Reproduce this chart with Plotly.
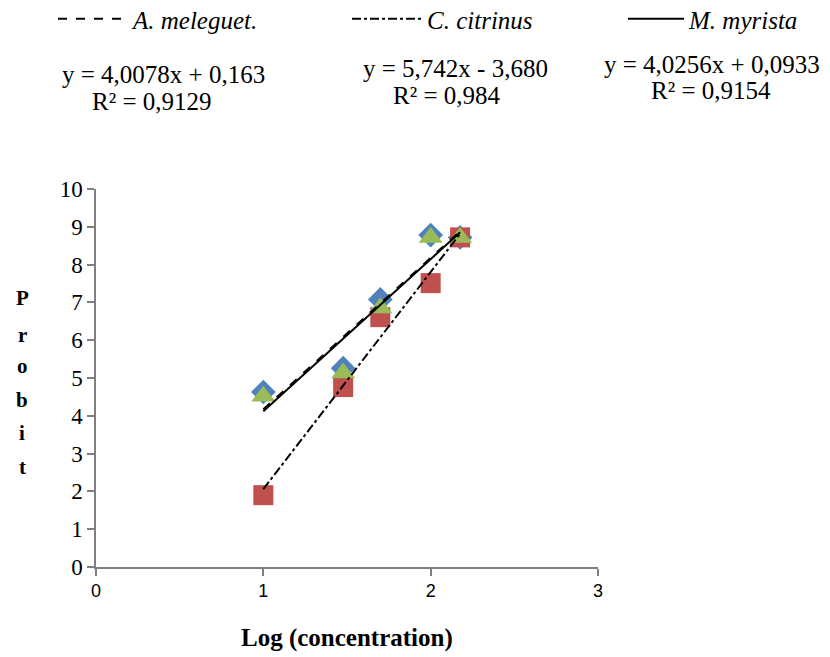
import plotly.graph_objects as go

# ---- data ----
log_conc = [1.0, 1.477, 1.699, 2.0, 2.176]
a_meleguet = [4.63, 5.26, 7.08, 8.78, 8.72]
c_citrinus = [1.90, 4.76, 6.61, 7.51, 8.72]
m_myrista = [4.52, 5.13, 6.85, 8.72, 8.72]

series_names = ["A. meleguet.", "C. citrinus", "M. myrista"]
slopes = [4.0078, 5.742, 4.0256]
intercepts = [0.163, -3.680, 0.0933]
equations = ["y = 4,0078x + 0,163", "y = 5,742x - 3,680", "y = 4,0256x + 0,0933"]
r2_labels = ["R² = 0,9129", "R² = 0,984", "R² = 0,9154"]

x_ticks = [0, 1, 2, 3]
y_ticks = list(range(0, 11))

SERIF = "Liberation Serif, Times New Roman, serif"
SANS = "Liberation Sans, Arial, sans-serif"
AXIS_GREY = "#808080"

fig = go.Figure()

# markers
fig.add_trace(go.Scatter(x=log_conc, y=a_meleguet, mode="markers", showlegend=False,
                         marker=dict(symbol="diamond", size=19, color="#4F81BD")))
fig.add_trace(go.Scatter(x=log_conc, y=c_citrinus, mode="markers", showlegend=False,
                         marker=dict(symbol="square", size=20, color="#C0504D")))
fig.add_trace(go.Scatter(x=log_conc, y=m_myrista, mode="markers", showlegend=False,
                         marker=dict(symbol="triangle-up", size=21, color="#9BBB59")))

# trend lines
dashes = ["dash", "dashdot", "solid"]
legends = ["legend", "legend2", "legend3"]
xmin, xmax = min(log_conc), max(log_conc)
for name, m, b, d, lg in zip(series_names, slopes, intercepts, dashes, legends):
    fig.add_trace(go.Scatter(
        x=[xmin, xmax], y=[m * xmin + b, m * xmax + b], mode="lines",
        name="<i>" + name + "</i>", legend=lg,
        line=dict(color="black", width=2, dash=d)))

OFF = 8  # page offset of the figure (body margin)
W, H = 830, 657
# plot area in page pixels: x 96..598, y 189..567
L, R, T, B = 96 - OFF, W - (598 - OFF), 189 - OFF, H - (567 - OFF)
pw, ph = W - L - R, H - T - B

def px_x(px):
    return (px - OFF - L) / pw

def px_y(py):
    return (H - B - (py - OFF)) / ph

legend_font = dict(family=SERIF, size=25, color="black")
def leg(xpx, iw):
    return dict(xref="container", yref="container", x=(xpx - OFF) / W,
                y=1 - (19 - OFF) / H,
                xanchor="left", yanchor="middle", itemwidth=iw,
                font=legend_font, bgcolor="rgba(0,0,0,0)")

fig.update_layout(
    width=W, height=H,
    margin=dict(l=L, r=R, t=T, b=B, autoexpand=False),
    paper_bgcolor="white", plot_bgcolor="white",
    legend=leg(53, 70),
    legend2=leg(347, 70),
    legend3=leg(623, 56),
    xaxis=dict(range=[0, 3], tickvals=x_ticks, showgrid=False, zeroline=False,
               showline=True, linecolor=AXIS_GREY, linewidth=1.5,
               ticks="outside", ticklen=7, tickcolor=AXIS_GREY, tickwidth=1.5,
               tickfont=dict(family=SANS, size=18, color="black")),
    yaxis=dict(range=[0, 10], tickvals=y_ticks, showgrid=False, zeroline=False,
               showline=True, linecolor=AXIS_GREY, linewidth=1.5,
               ticks="outside", ticklen=7, tickcolor=AXIS_GREY, tickwidth=1.5,
               ticksuffix="\u00a0",
               tickfont=dict(family=SERIF, size=23, color="black")),
)

# x-axis title
fig.add_annotation(x=0.5, y=px_y(638), xref="paper", yref="paper",
                   xanchor="center", yanchor="middle", showarrow=False,
                   text="<b>Log (concentration)</b>",
                   font=dict(family=SERIF, size=25, color="black"))

# equations (one annotation per line)
eq_pos = [(163, 75), (455, 68), (712, 65)]
r2_pos = [(152, 101), (447, 95), (711, 91)]
for (ex, ey), (rx, ry), eq, r2 in zip(eq_pos, r2_pos, equations, r2_labels):
    fig.add_annotation(x=px_x(ex), y=px_y(ey), xref="paper", yref="paper",
                       xanchor="center", yanchor="middle",
                       text=eq, showarrow=False,
                       font=dict(family=SERIF, size=25, color="black"))
    fig.add_annotation(x=px_x(rx), y=px_y(ry), xref="paper", yref="paper",
                       xanchor="center", yanchor="middle",
                       text=r2, showarrow=False,
                       font=dict(family=SERIF, size=25, color="black"))

# vertical y-axis title, letters stacked
y_title = "Probit"
letter_y = [298, 335, 366, 400, 433, 467]
for ch, py in zip(y_title, letter_y):
    fig.add_annotation(x=px_x(22), y=px_y(py), xref="paper", yref="paper",
                       xanchor="center", yanchor="middle",
                       text="<b>" + ch + "</b>", showarrow=False,
                       font=dict(family=SERIF, size=21, color="black"))

fig.write_html("out.html")
